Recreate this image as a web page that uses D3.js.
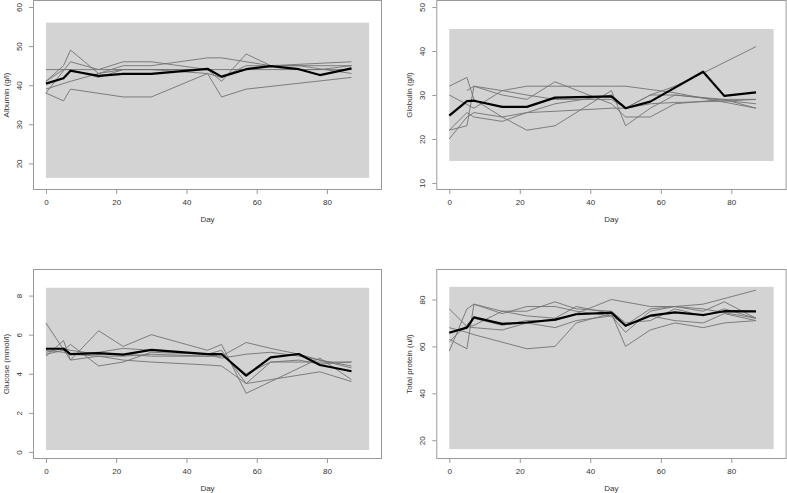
<!DOCTYPE html>
<html>
<head>
<meta charset="utf-8">
<script src="https://cdn.jsdelivr.net/npm/d3@7"></script>
<style>
  body { margin: 0; background: #fff; }
  svg { display: block; font-family: "Liberation Sans", Arial, sans-serif; }
</style>
</head>
<body>
<svg id="chart" width="787" height="493"></svg>
<script>
// sampling days shared by all subjects (null = not sampled)
const days = [0, 5, 7, 15, 22, 30, 36, 46, 50, 57, 64, 72, 78, 87];

const albuminMean = [40.4, 41.8, 43.7, 42.4, 42.9, 42.9, null, 44.2, 42.2, 44.1, 44.9, 44.1, 42.6, 44.3];
const albuminSubjects = [
  [44, null, null, null, null, null, null, 44, null, null, null, null, null, 44],
  [38, 36, 39, null, 37, 37, null, 43, 37, 39, null, null, null, 42],
  [41, 45, 49, 43, 44, 44, null, 44, 41, 48, 45, 45, null, 43],
  [38, null, 46, 44, 46, 46, null, 44, 42, 45, 45, 44, 44, 45],
  [39, null, 41, 43, 45, 45, null, 47, 47, null, 45, null, null, 46],
  [41, 44, 44, 42, 44, 44, null, 43, 42, 44, 45, null, null, 45]
];

const globulinMean = [25.3, 28.6, 28.7, 27.3, 27.3, 29.4, null, 29.7, 27.0, 28.5, null, 35.3, 29.8, 30.6];
const globulinSubjects = [
  [32, 34, 29, 25, 22, 23, null, 31, 23, 27, 30, null, null, 28],
  [30, null, 27, 31, 32, 32, null, 32, 32, null, 30.5, null, null, 27],
  [22, 23, 32, 30, 29, 33, null, 28, 25, 25, 28, null, 29, 29],
  [20, 25, 26, 25, 26, 26.3, null, 27, 27, 28, 28.3, null, 28.6, 29],
  [22, 26, 25, 24, 26, 28, null, 30, 27, 30, 30, null, 29, 27],
  [null, 31, 32, 31, 30, 29, null, 29, 27, 30, 32, 35, null, 41]
];

const glucoseMean = [5.28, 5.28, 5.01, 5.06, 4.98, 5.22, null, 5.01, 5.01, 3.9, 4.84, 5.01, 4.45, 4.13];
const glucoseSubjects = [
  [6.6, null, 4.7, 4.9, 4.7, 4.6, null, 4.45, 4.4, 3.5, 3.7, null, 4.1, 3.6],
  [5.0, 5.2, 5.5, 4.4, 4.6, 5.1, null, 5.0, 5.2, 3.5, 4.6, 4.6, null, 4.6],
  [4.9, 5.7, 4.7, 6.2, 5.4, 6.0, null, 5.2, 5.5, 3.0, null, null, 4.8, 3.7],
  [5.3, 5.3, 5.0, 5.1, 5.3, 5.2, null, 5.0, 4.8, 5.0, 5.1, 4.9, null, 4.4],
  [5.2, 5.1, 5.0, 4.9, 4.9, 5.0, null, 4.9, 4.9, 5.6, 5.3, 5.0, 4.7, 4.3],
  [5.1, 5.3, 5.2, 5.0, 5.0, 4.9, null, 4.9, 5.0, 4.0, 4.6, 4.7, 4.5, 4.6]
];

const proteinMean = [65.8, 68.0, 72.4, 69.6, 70.2, 71.4, 73.7, 74.4, 68.8, 73.1, 74.5, 73.4, 75.0, 74.9];
const proteinSubjects = [
  [68, 66, 65, null, 59, 60, 70, 74, 60, 67, 70, 68, 70, 71],
  [63, 59, 78, 75, 73, 72, 77, 74, 69, 76, 77, 75, 79, 72],
  [58, 76, 78, 74, 77, 77, 75, 73, 66, 75, 77, 76, null, 72],
  [76, 68.5, 68, 67, 70, 68, 71, 73, 69, 73, 71, 70, 74, 71],
  [66, null, 69, 75, 75, 79, 76, 75, 70, 71, 76, 73, 76, 72],
  [62, null, 72, 69, 71, 71, 74, 80, null, 77, 77, 78, null, 84]
];

// reference band per measurement [low, high] and x extent
const albuminBand = [16.3, 56];
const globulinBand = [15, 45];
const glucoseBand = [0.1, 8.4];
const proteinBand = [16.2, 85.4];
const bandDays = [0, 92];

const xTicks = [0, 20, 40, 60, 80];

const panels = [
  { label: "Albumin (g/l)", mean: albuminMean, subjects: albuminSubjects, band: albuminBand,
    ylim: [15, 60], yTicks: [20, 30, 40, 50, 60], box: [33, 0, 382, 190] },
  { label: "Globulin (g/l)", mean: globulinMean, subjects: globulinSubjects, band: globulinBand,
    ylim: [10, 50], yTicks: [10, 20, 30, 40, 50], box: [436.3, 0, 786.6, 190] },
  { label: "Glucose (mmol/l)", mean: glucoseMean, subjects: glucoseSubjects, band: glucoseBand,
    ylim: [0, 9], yTicks: [0, 2, 4, 6, 8], box: [33, 269, 382, 459] },
  { label: "Total protein (u/l)", mean: proteinMean, subjects: proteinSubjects, band: proteinBand,
    ylim: [15, 90], yTicks: [20, 40, 60, 80], box: [436.3, 269, 786.6, 459] }
];

const svg = d3.select("#chart");
const frameCol = "#999";
const textCol = "#333";

// R style axis range: extend by 4% on each side
function rlim(lim) {
  const d = (lim[1] - lim[0]) * 0.04;
  return [lim[0] - d, lim[1] + d];
}

panels.forEach(p => {
  const [x0, y0, x1, y1] = p.box;
  const x = d3.scaleLinear().domain(rlim([0, 92])).range([x0, x1]);
  const y = d3.scaleLinear().domain(rlim(p.ylim)).range([y1, y0]);
  const g = svg.append("g");

  g.append("rect")
    .attr("x", x(bandDays[0])).attr("y", y(p.band[1]))
    .attr("width", x(bandDays[1]) - x(bandDays[0]))
    .attr("height", y(p.band[0]) - y(p.band[1]))
    .attr("fill", "#d3d3d3");

  const line = d3.line().x(d => x(d[0])).y(d => y(d[1]));
  const pts = vals => days.map((d, i) => [d, vals[i]]).filter(d => d[1] != null);

  p.subjects.forEach(s => {
    g.append("path").attr("d", line(pts(s)))
      .attr("fill", "none").attr("stroke", "#737373").attr("stroke-width", 0.9);
  });
  g.append("path").attr("d", line(pts(p.mean)))
    .attr("fill", "none").attr("stroke", "#000").attr("stroke-width", 2.2)
    .attr("stroke-linejoin", "round");

  // box
  g.append("rect")
    .attr("x", x0 + 0.5).attr("y", y0 + 0.5)
    .attr("width", x1 - x0 - 1).attr("height", y1 - y0 - 1)
    .attr("fill", "none").attr("stroke", frameCol).attr("stroke-width", 1);

  // x axis
  const xa = g.append("g").attr("transform", `translate(0,${y1})`)
    .call(d3.axisBottom(x).tickValues(xTicks).tickSize(4).tickPadding(5).tickSizeOuter(0));
  xa.select(".domain").remove();
  xa.selectAll("line").attr("stroke", frameCol);
  xa.selectAll("text").attr("fill", textCol).attr("font-size", 8);

  // y axis, rotated labels like R's las = 0
  const ya = g.append("g").attr("transform", `translate(${x0},0)`)
    .call(d3.axisLeft(y).tickValues(p.yTicks).tickSize(4).tickFormat(d3.format("d")));
  ya.select(".domain").remove();
  ya.selectAll("line").attr("stroke", frameCol);
  ya.selectAll("text")
    .attr("fill", textCol).attr("font-size", 8)
    .attr("x", null).attr("dy", null)
    .attr("text-anchor", "middle")
    .attr("transform", "translate(-13,0) rotate(-90)")
    .attr("dominant-baseline", "middle");

  g.append("text")
    .attr("x", (x0 + x1) / 2).attr("y", y1 + 32)
    .attr("text-anchor", "middle").attr("font-size", 8).attr("fill", textCol)
    .text("Day");

  g.append("text")
    .attr("transform", `translate(${x0 - 27},${(y0 + y1) / 2}) rotate(-90)`)
    .attr("text-anchor", "middle").attr("dominant-baseline", "central")
    .attr("font-size", 8).attr("fill", textCol)
    .text(p.label);
});
</script>
</body>
</html>
